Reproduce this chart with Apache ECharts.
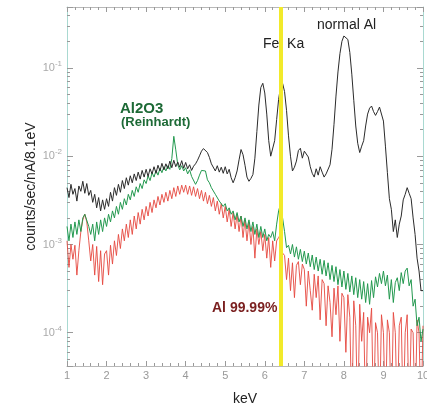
<!DOCTYPE html>
<html>
<head>
<meta charset="utf-8">
<script src="https://cdn.jsdelivr.net/npm/echarts@6/dist/echarts.min.js"></script>
<style>
  html, body { margin: 0; padding: 0; background: #fff; }
  #chart { width: 427px; height: 409px; }
</style>
</head>
<body>
<div id="chart"></div>
<script>
// bin energies (keV)
var energy = [
  1.00,1.05,1.10,1.15,1.20,1.25,1.30,1.35,1.40,1.45,
  1.50,1.55,1.60,1.65,1.70,1.75,1.80,1.85,1.90,1.95,
  2.00,2.05,2.10,2.15,2.20,2.25,2.30,2.35,2.40,2.45,
  2.50,2.55,2.60,2.65,2.70,2.75,2.80,2.85,2.90,2.95,
  3.00,3.05,3.10,3.15,3.20,3.25,3.30,3.35,3.40,3.45,
  3.50,3.55,3.60,3.65,3.70,3.75,3.80,3.85,3.90,3.95,
  4.00,4.05,4.10,4.15,4.20,4.25,4.30,4.35,4.40,4.45,
  4.50,4.55,4.60,4.65,4.70,4.75,4.80,4.85,4.90,4.95,
  5.00,5.05,5.10,5.15,5.20,5.25,5.30,5.35,5.40,5.45,
  5.50,5.55,5.60,5.65,5.70,5.75,5.80,5.85,5.90,5.95,
  6.00,6.05,6.10,6.15,6.20,6.25,6.30,6.35,6.40,6.45,
  6.50,6.55,6.60,6.65,6.70,6.75,6.80,6.85,6.90,6.95,
  7.00,7.05,7.10,7.15,7.20,7.25,7.30,7.35,7.40,7.45,
  7.50,7.55,7.60,7.65,7.70,7.75,7.80,7.85,7.90,7.95,
  8.00,8.05,8.10,8.15,8.20,8.25,8.30,8.35,8.40,8.45,
  8.50,8.55,8.60,8.65,8.70,8.75,8.80,8.85,8.90,8.95,
  9.00,9.05,9.10,9.15,9.20,9.25,9.30,9.35,9.40,9.45,
  9.50,9.55,9.60,9.65,9.70,9.75,9.80,9.85,9.90,9.95,
  10.00
];

// normal Al (black)
var normalAl = [
  0.0044,0.0034,0.0048,0.0037,0.0043,0.0031,0.0046,0.0040,0.0052,0.0038,
  0.0049,0.0036,0.0041,0.0030,0.0037,0.0026,0.0034,0.0024,0.0032,0.0025,
  0.0033,0.0027,0.0039,0.0031,0.0044,0.0036,0.0048,0.0039,0.0053,0.0043,
  0.0057,0.0047,0.0060,0.0050,0.0063,0.0053,0.0066,0.0055,0.0069,0.0058,
  0.0071,0.0059,0.0072,0.0063,0.0076,0.0064,0.0079,0.0068,0.0083,0.0070,
  0.0082,0.0072,0.0088,0.0074,0.0090,0.0076,0.0086,0.0075,0.0089,0.0073,
  0.0085,0.0072,0.0080,0.0069,0.0077,0.0082,0.0090,0.0101,0.0114,0.0122,
  0.0126,0.0110,0.0097,0.0082,0.0079,0.0068,0.0078,0.0066,0.0075,0.0064,
  0.0076,0.0063,0.0071,0.0057,0.0050,0.0057,0.0068,0.0091,0.0119,0.0104,
  0.0079,0.0058,0.0052,0.0056,0.0062,0.0095,0.0190,0.0380,0.0600,0.0670,
  0.0520,0.0300,0.0150,0.0100,0.0105,0.0150,0.0260,0.0440,0.0620,0.0670,
  0.0540,0.0330,0.0170,0.0100,0.0068,0.0075,0.0088,0.0116,0.0123,0.0095,
  0.0114,0.0120,0.0098,0.0076,0.0064,0.0058,0.0072,0.0061,0.0076,0.0066,
  0.0058,0.0063,0.0060,0.0080,0.0120,0.0230,0.0480,0.0900,0.1450,0.2000,
  0.2300,0.2350,0.2100,0.1500,0.0850,0.0430,0.0220,0.0140,0.0110,0.0130,
  0.0150,0.0220,0.0300,0.0350,0.0370,0.0320,0.0290,0.0320,0.0360,0.0350,
  0.0250,0.0130,0.0065,0.0033,0.0025,0.0014,0.0019,0.0012,0.0017,0.0021,
  0.0032,0.0037,0.0044,0.0038,0.0033,0.0020,0.0013,0.0007,0.0005,0.0003,
  0.0003
];

// Al2O3 (Reinhardt) (green)
var al2o3 = [
  0.0016,0.0011,0.0017,0.0012,0.0018,0.0013,0.0019,0.0014,0.0020,0.0022,
  0.0023,0.0016,0.0013,0.0017,0.0011,0.0018,0.0013,0.0019,0.0014,0.0020,
  0.0016,0.0022,0.0018,0.0024,0.0020,0.0027,0.0022,0.0030,0.0025,0.0033,
  0.0028,0.0037,0.0032,0.0041,0.0035,0.0045,0.0039,0.0049,0.0043,0.0054,
  0.0049,0.0060,0.0053,0.0065,0.0058,0.0069,0.0061,0.0073,0.0065,0.0076,
  0.0068,0.0078,0.0071,0.0094,0.0168,0.0118,0.0080,0.0070,0.0078,0.0068,
  0.0074,0.0063,0.0070,0.0059,0.0057,0.0048,0.0053,0.0061,0.0069,0.0072,
  0.0068,0.0054,0.0050,0.0044,0.0043,0.0037,0.0037,0.0031,0.0032,0.0027,
  0.0029,0.0024,0.0026,0.0022,0.0024,0.0019,0.0023,0.0018,0.0021,0.0016,
  0.0020,0.0015,0.0019,0.0014,0.0018,0.0013,0.0017,0.0012,0.0016,0.0012,
  0.0015,0.0011,0.0013,0.0012,0.0014,0.0011,0.0017,0.0024,0.0029,0.0020,
  0.0014,0.00092,0.00098,0.00078,0.0010,0.00072,0.00094,0.00068,0.00088,0.00064,
  0.00084,0.00060,0.00080,0.00056,0.00076,0.00052,0.00072,0.00050,0.00068,0.00046,
  0.00066,0.00044,0.00062,0.00040,0.00058,0.00038,0.00056,0.00035,0.00052,0.00033,
  0.00050,0.00031,0.00047,0.00029,0.00044,0.00027,0.00042,0.00025,0.00040,0.00024,
  0.00038,0.00022,0.00036,0.00021,0.00039,0.00025,0.00043,0.00033,0.00047,0.00036,
  0.00050,0.00034,0.00045,0.00024,0.00040,0.00022,0.00037,0.00042,0.00030,0.00048,
  0.00036,0.00050,0.00054,0.00034,0.00040,0.00020,0.00024,0.00012,0.00015,0.00008,
  0.00011
];

// Al 99.99% (red)
var al9999 = [
  0.0011,0.00055,0.0010,0.00068,0.00098,0.00045,0.00085,0.0014,0.0019,0.0022,
  0.0018,0.0011,0.00065,0.0010,0.00045,0.00095,0.00038,0.00085,0.00035,0.00078,
  0.00085,0.00045,0.00098,0.00060,0.0011,0.00075,0.0013,0.00090,0.0015,0.0011,
  0.0017,0.0012,0.0019,0.0013,0.0021,0.0015,0.0023,0.0017,0.0025,0.0019,
  0.0027,0.0021,0.0030,0.0023,0.0032,0.0026,0.0035,0.0028,0.0037,0.0030,
  0.0039,0.0031,0.0041,0.0033,0.0044,0.0035,0.0046,0.0037,0.0047,0.0039,
  0.0047,0.0037,0.0046,0.0036,0.0045,0.0035,0.0043,0.0033,0.0041,0.0031,
  0.0039,0.0029,0.0036,0.0027,0.0034,0.0024,0.0031,0.0022,0.0029,0.0020,
  0.0027,0.0018,0.0025,0.0016,0.0023,0.0015,0.0022,0.0014,0.0021,0.0012,
  0.0019,0.0011,0.0018,0.0010,0.0016,0.00070,0.0015,0.0010,0.0014,0.00085,
  0.0013,0.00070,0.0012,0.00055,0.0011,0.00065,0.0011,0.0012,0.0013,0.00080,
  0.00075,0.00040,0.00070,0.00030,0.00062,0.00025,0.00058,0.00064,0.00035,0.00060,
  0.00052,0.00020,0.00050,0.00030,0.00018,0.00046,0.00025,0.00044,0.00014,0.00040,
  0.00036,0.00012,0.00034,0.00022,0.00009,0.00032,0.00016,0.00034,0.00008,0.00028,
  0.00025,0.00006,0.00027,0.00015,0.00001,0.00023,0.00012,0.00001,0.00021,0.00008,
  0.00017,0.00001,0.00015,0.0001,0.00019,0.00001,0.00013,0.0001,0.00001,0.00016,
  0.0001,0.00001,0.00014,0.0001,0.00001,0.00017,0.0001,0.00001,0.00012,0.00015,
  0.00001,0.0001,0.00016,0.00001,0.00011,0.0001,0.00001,0.00014,0.0001,0.00001,
  0.00012
];

var feKa = 6.4;
var yMin = 4.2e-5, yMax = 0.49;

function pairs(vals) {
  return energy.map(function (e, i) { return [e, vals[i]]; });
}

// minor log ticks (2..9 x 10^n), placed on a plain value axis in log10 space
var minorTicks = [];
for (var n = -5; n <= -1; n++) {
  for (var k = 2; k <= 9; k++) minorTicks.push(Math.log10(k * Math.pow(10, n)));
}

var tickColor = '#9a9a9a';
var frameColor = '#a9d9d1';

var chart = echarts.init(document.getElementById('chart'));
var option = {
  animation: false,
  backgroundColor: '#fff',
  grid: { left: 67, right: 4, top: 7, bottom: 43, containLabel: false, outerBoundsMode: 'none' },
  xAxis: [{
    type: 'value', min: 1, max: 10, interval: 1, position: 'bottom',
    axisLine: { lineStyle: { color: '#b8b8b8' } },
    axisTick: { inside: true, length: 5, lineStyle: { color: tickColor } },
    minorTick: { show: true, splitNumber: 5, length: 3, lineStyle: { color: tickColor } },
    axisLabel: { color: '#999', fontSize: 11, margin: 4, fontFamily: 'Liberation Sans' },
    splitLine: { show: false },
    name: 'keV', nameLocation: 'middle', nameGap: 26,
    nameTextStyle: { color: '#222', fontSize: 14, fontFamily: 'Liberation Sans' }
  }, {
    type: 'value', min: 1, max: 10, interval: 1, position: 'top',
    axisLine: { lineStyle: { color: '#b8b8b8' } },
    axisTick: { inside: true, length: 5, lineStyle: { color: tickColor } },
    minorTick: { show: true, splitNumber: 5, length: 3, lineStyle: { color: tickColor } },
    axisLabel: { show: false },
    splitLine: { show: false }
  }],
  yAxis: [{
    type: 'log', min: yMin, max: yMax, position: 'left',
    axisLine: { show: true, lineStyle: { color: frameColor } },
    axisTick: { inside: true, length: 6, lineStyle: { color: tickColor } },
    splitLine: { show: false },
    axisLabel: {
      margin: 5, color: '#aaa',
      formatter: function (v) {
        var e = Math.log10(v);
        if (Math.abs(e - Math.round(e)) > 1e-6) return '';
        return '{b|10}{s|' + Math.round(e) + '}';
      },
      rich: {
        b: { fontSize: 11, color: '#aaa', fontFamily: 'Liberation Sans' },
        s: { fontSize: 8, color: '#aaa', fontFamily: 'Liberation Sans', padding: [0, 0, 8, 0] }
      }
    },
    name: 'counts/sec/nA/8.1eV', nameLocation: 'middle', nameGap: 29, nameMoveOverlap: false,
    nameTextStyle: { color: '#222', fontSize: 14, fontFamily: 'Liberation Sans' }
  }, {
    type: 'value', min: Math.log10(yMin), max: Math.log10(yMax), position: 'left', offset: 0,
    axisLine: { show: false },
    axisTick: { show: true, inside: true, length: 3, customValues: minorTicks, lineStyle: { color: tickColor } },
    axisLabel: { show: false },
    splitLine: { show: false }
  }, {
    type: 'log', min: yMin, max: yMax, position: 'right', offset: 0,
    axisLine: { show: true, lineStyle: { color: frameColor } },
    axisTick: { inside: true, length: 6, lineStyle: { color: tickColor } },
    axisLabel: { show: false },
    splitLine: { show: false }
  }, {
    type: 'value', min: Math.log10(yMin), max: Math.log10(yMax), position: 'right', offset: 0,
    axisLine: { show: false },
    axisTick: { show: true, inside: true, length: 3, customValues: minorTicks, lineStyle: { color: tickColor } },
    axisLabel: { show: false },
    splitLine: { show: false }
  }],
  series: [{
    name: 'Al 99.99%', type: 'line', data: pairs(al9999),
    showSymbol: false, clip: true,
    lineStyle: { color: '#e5483f', width: 1, opacity: 0.9 },
    markLine: {
      silent: true, symbol: 'none', label: { show: false },
      lineStyle: { color: '#f2ea2a', width: 4, type: 'solid' },
      data: [{ xAxis: feKa }]
    }
  }, {
    name: 'Al2O3', type: 'line', data: pairs(al2o3),
    showSymbol: false, clip: true,
    lineStyle: { color: '#23994f', width: 1 }
  }, {
    name: 'normal Al', type: 'line', data: pairs(normalAl),
    showSymbol: false, clip: true,
    lineStyle: { color: '#2b2b2b', width: 1 }
  }],
  graphic: [
    { type: 'text', left: 120, top: 101, style: { text: 'Al2O3', fill: '#1d6a36', font: 'bold 15px Liberation Sans' } },
    { type: 'text', left: 121, top: 116, style: { text: '(Reinhardt)', fill: '#1d6a36', font: 'bold 13px Liberation Sans' } },
    { type: 'text', left: 263, top: 37, style: { text: 'Fe  Ka', fill: '#222', font: '14px Liberation Sans' } },
    { type: 'text', left: 317, top: 18, style: { text: 'normal Al', fill: '#222', font: '14px Liberation Sans' } },
    { type: 'text', left: 212, top: 301, style: { text: 'Al 99.99%', fill: '#7a1f1f', font: 'bold 14px Liberation Sans' } }
  ]
};
chart.setOption(option);
</script>
</body>
</html>
